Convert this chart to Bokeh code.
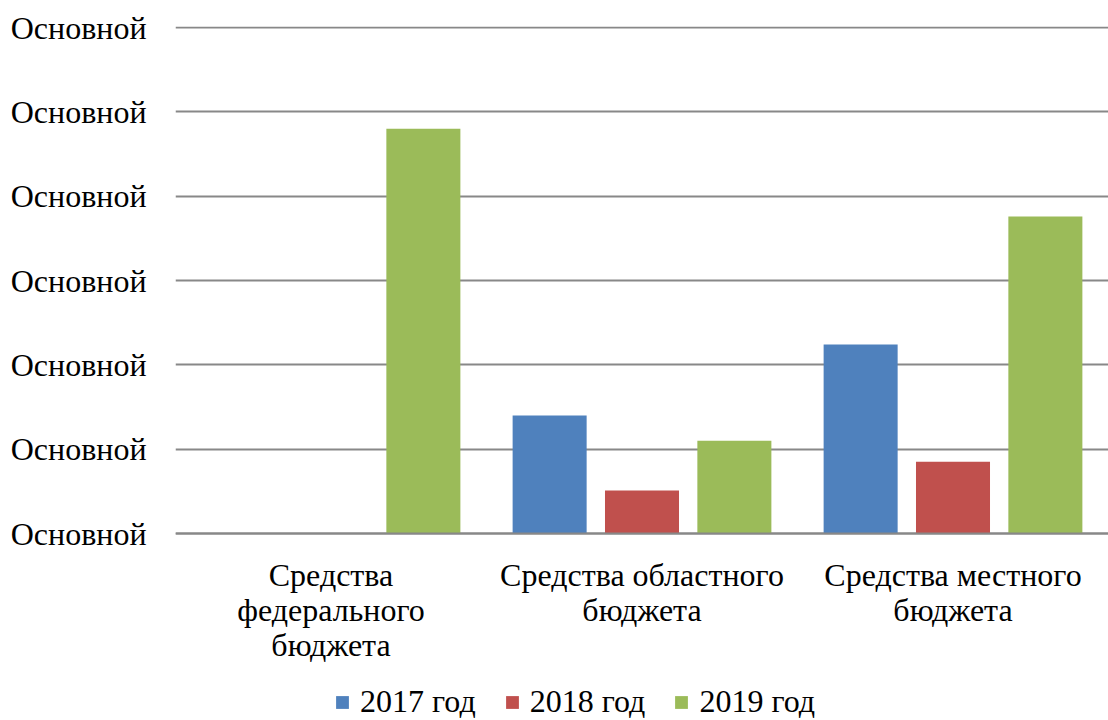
from bokeh.plotting import figure
from bokeh.models import ColumnDataSource, FactorRange, Legend, LegendItem, FixedTicker
from bokeh.transform import dodge
from bokeh.embed import file_html
from bokeh.resources import INLINE

categories = ["Средства\nфедерального\nбюджета", "Средства областного\nбюджета", "Средства местного\nбюджета"]
series_names = ["2017 год", "2018 год", "2019 год"]
v2017 = [0.0, 1.40, 2.24]
v2018 = [0.0, 0.51, 0.85]
v2019 = [4.80, 1.10, 3.76]
y_ticks = [0, 1, 2, 3, 4, 5, 6]
y_tick_labels = ["Основной"] * 7
colors = ["#4F81BD", "#C0504D", "#9BBB59"]

src = ColumnDataSource(dict(cat=categories, a=v2017, b=v2018, c=v2019))

# frame spans down to the bottom of the page; value 0 sits 187px above the bottom
p = figure(x_range=FactorRange(*categories, range_padding=0), y_range=(-2.2174, 6.0119),
           width=1108, height=720, frame_width=933, frame_height=694,
           output_backend="svg", toolbar_location=None,
           min_border_left=175, min_border_right=0, min_border_top=26, min_border_bottom=0)
p.outline_line_color = None

fnt = "'Liberation Serif', 'Times New Roman', serif"
renderers = []
for key, off, col in zip(["a", "b", "c"], [-0.297, 0.0, 0.297], colors):
    r = p.vbar(x=dodge("cat", off, range=p.x_range), top=key, width=0.238, source=src,
               fill_color=col, line_color=None)
    renderers.append(r)

p.yaxis.ticker = FixedTicker(ticks=y_ticks)
p.yaxis.major_label_overrides = {t: l for t, l in zip(y_ticks, y_tick_labels)}
p.yaxis.axis_line_color = None
p.yaxis.major_tick_line_color = None
p.yaxis.minor_tick_line_color = None
p.yaxis.major_label_text_font = fnt
p.yaxis.major_label_text_font_size = "32px"
p.yaxis.major_label_text_color = "#000000"
p.yaxis.major_label_standoff = 23

p.xaxis.fixed_location = 0
p.xaxis.axis_line_color = "#888888"
p.xaxis.axis_line_width = 2
p.xaxis.major_tick_line_color = None
p.xaxis.minor_tick_line_color = None
p.xaxis.major_label_text_font = fnt
p.xaxis.major_label_text_font_size = "32px"
p.xaxis.major_label_text_color = "#000000"
p.xaxis.major_label_text_line_height = 0.98
p.xaxis.major_label_standoff = 17

p.xgrid.grid_line_color = None
p.ygrid.grid_line_color = "#888888"
p.ygrid.grid_line_width = 2
p.ygrid.ticker = FixedTicker(ticks=y_ticks)

legend = Legend(items=[LegendItem(label=n, renderers=[r]) for n, r in zip(series_names, renderers)],
                orientation="horizontal", location=(159, 0),
                label_text_font=fnt, label_text_font_size="32px", label_text_color="#000000",
                glyph_width=16, glyph_height=16, label_standoff=10, spacing=28,
                border_line_color=None, background_fill_alpha=0, padding=0, margin=0)
p.add_layout(legend, "center")

open("out.html", "w").write(file_html(p, INLINE))
